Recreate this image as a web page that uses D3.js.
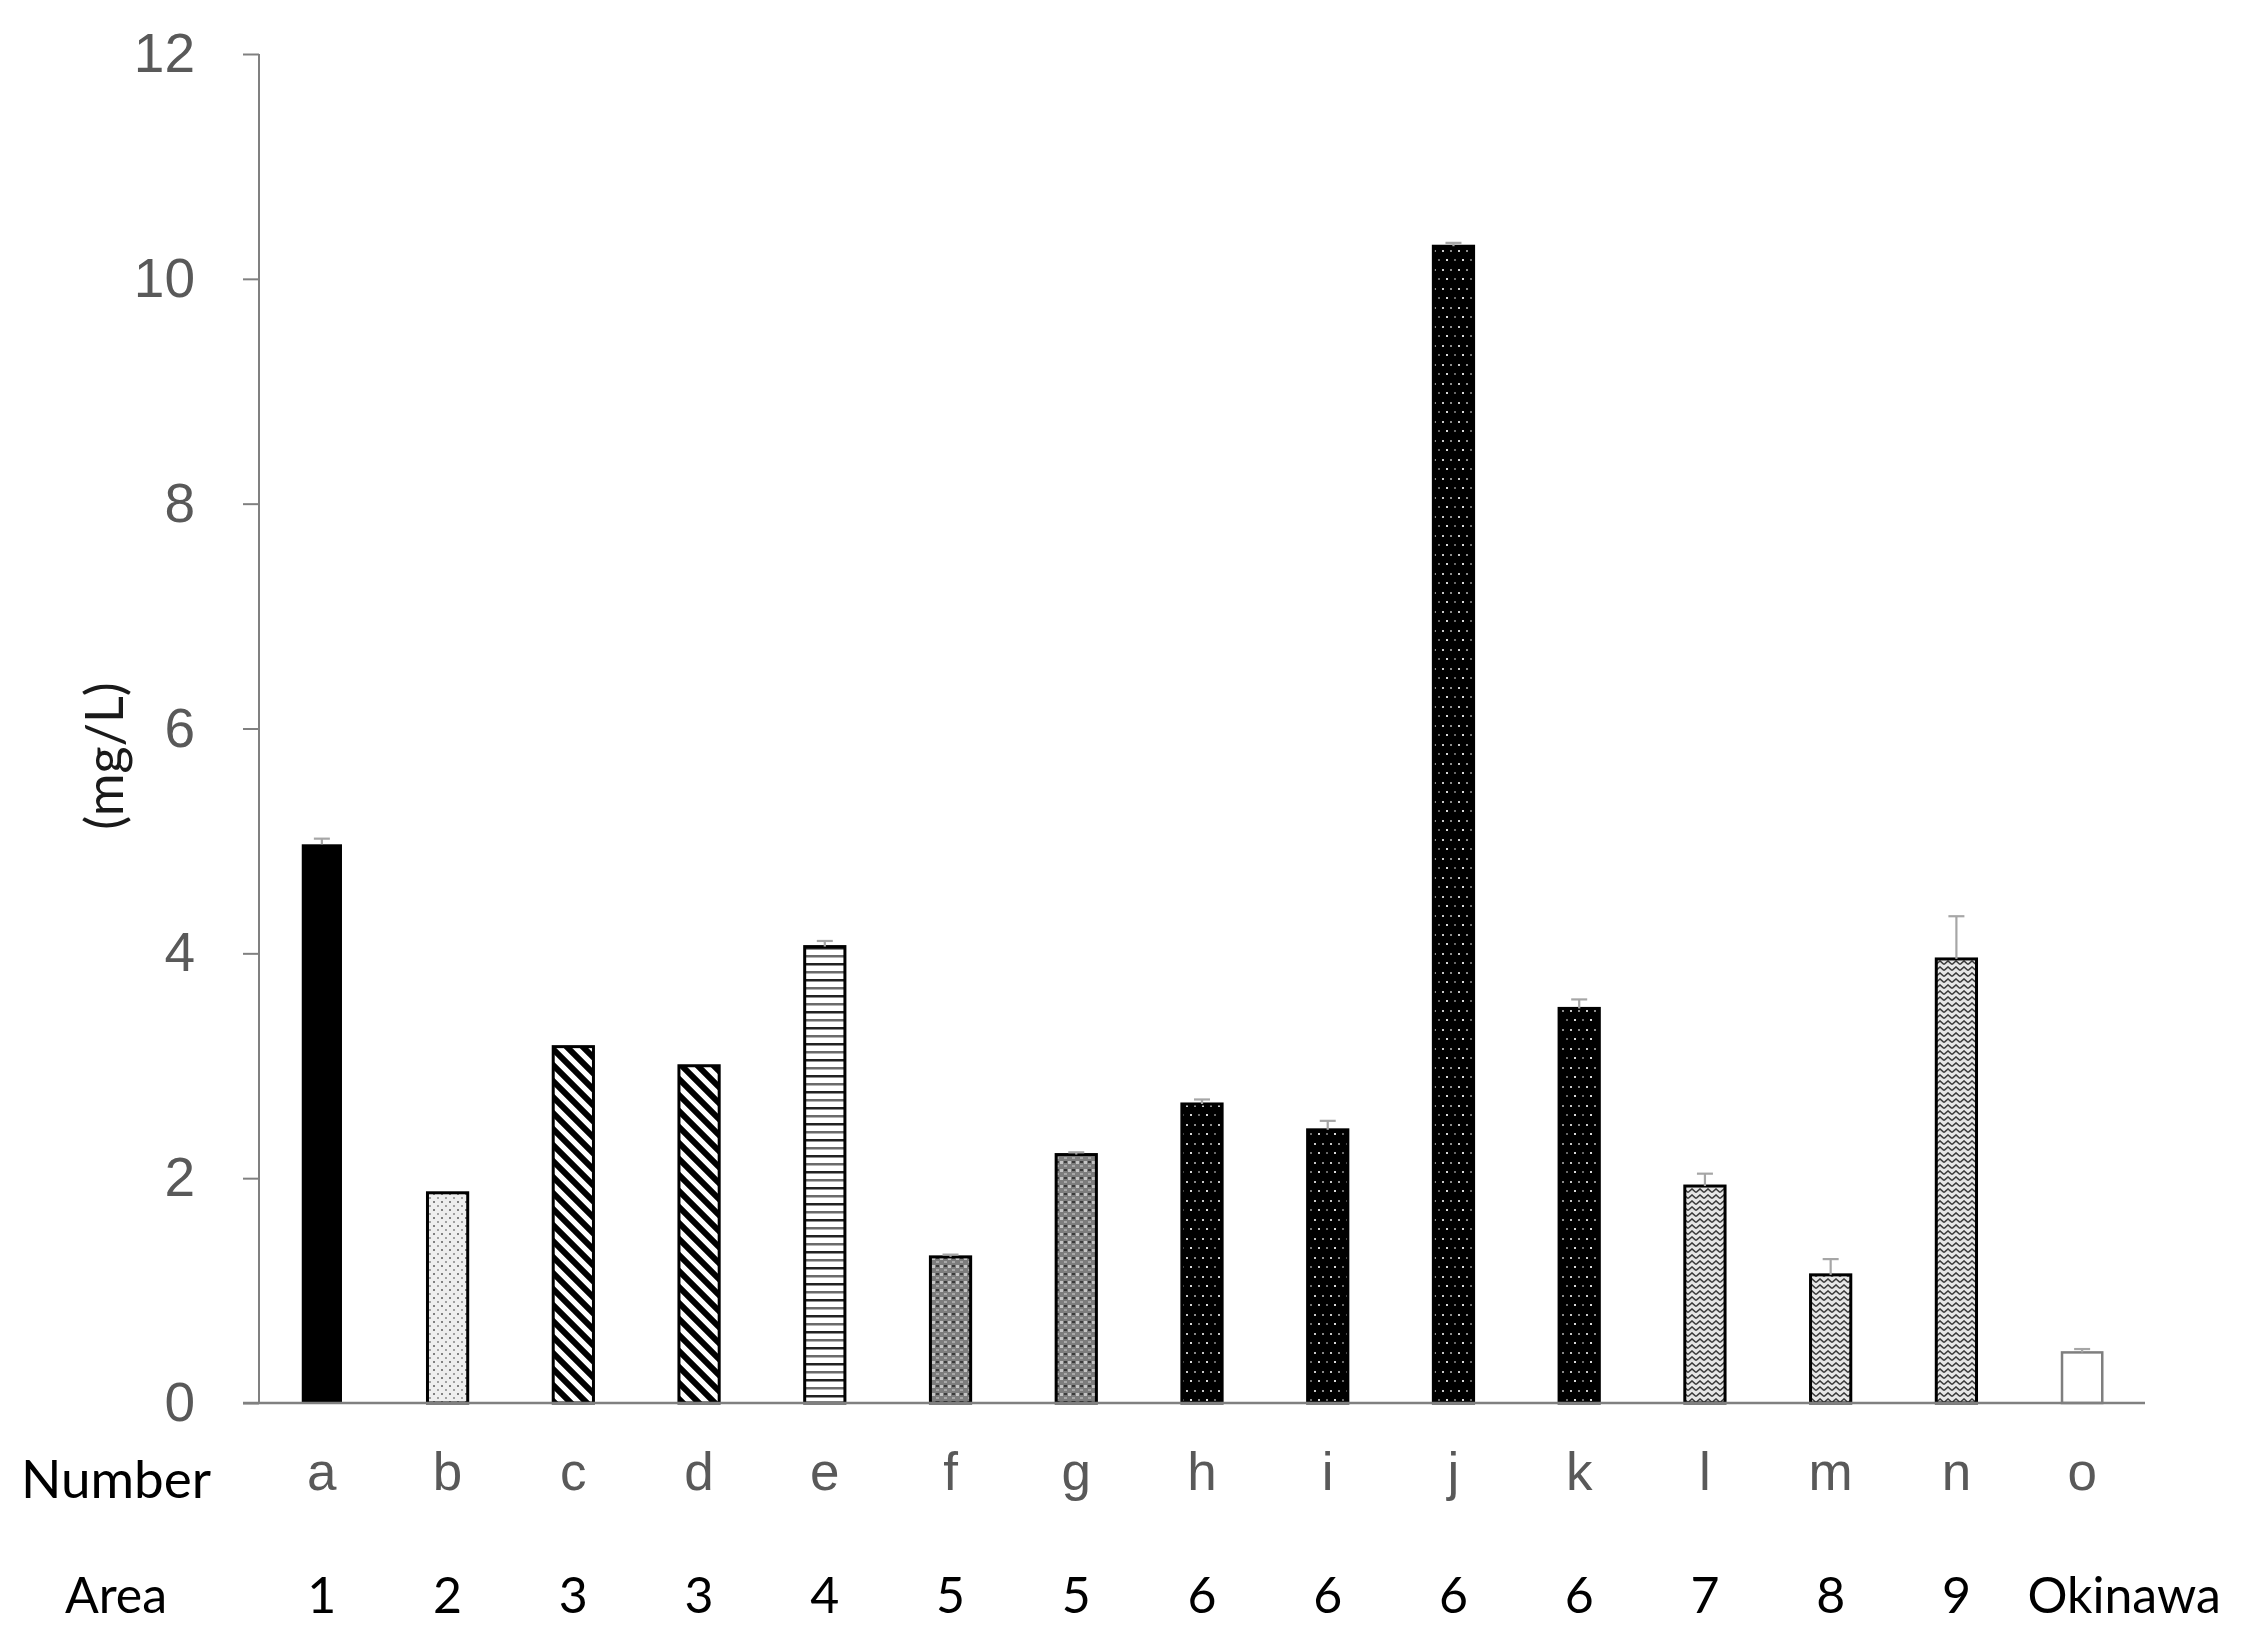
<!DOCTYPE html>
<html>
<head>
<meta charset="utf-8">
<script src="https://cdn.jsdelivr.net/npm/d3@7"></script>
<style>
  html, body { margin: 0; padding: 0; background: #fff; }
  svg { display: block; }
</style>
</head>
<body>
<script>
// ---- data ----
const numbers = ["a","b","c","d","e","f","g","h","i","j","k","l","m","n","o"];
const areas   = ["1","2","3","3","4","5","5","6","6","6","6","7","8","9","Okinawa"];
const values  = [4.97, 1.87, 3.17, 3.00, 4.06, 1.30, 2.21, 2.66, 2.43, 10.29, 3.51, 1.93, 1.14, 3.95, 0.45];
const errors  = [0.05, 0.00, 0.00, 0.01, 0.05, 0.02, 0.02, 0.04, 0.08, 0.03, 0.08, 0.11, 0.14, 0.38, 0.03];
const patternKeys = ["solid","dots","diag","diag","hlines","grid","grid","bdots","bdots","bdots","bdots","wave","wave","wave","white"];
const yTicks = [0, 2, 4, 6, 8, 10, 12];

// ---- layout ----
const W = 2248, H = 1640;
const axisX = 259, plotRight = 2145, y0px = 1403, y12px = 54;

const svg = d3.select("body").append("svg").attr("width", W).attr("height", H);
svg.append("rect").attr("width", W).attr("height", H).attr("fill", "#fff");

const defs = svg.append("defs");
function pat(id, w, h, bg) {
  const p = defs.append("pattern").attr("id", id).attr("patternUnits", "userSpaceOnUse")
    .attr("width", w).attr("height", h);
  p.append("rect").attr("width", w).attr("height", h).attr("fill", bg);
  return p;
}
// light dotted
{
  const p = pat("p-dots", 8, 8, "#eeeeee");
  p.append("rect").attr("x", 1).attr("y", 1).attr("width", 2).attr("height", 2).attr("fill", "#808080");
  p.append("rect").attr("x", 5).attr("y", 5).attr("width", 2).attr("height", 2).attr("fill", "#a0a0a0");
}
// wide downward diagonal
{
  const p = pat("p-diag", 16, 16, "#fff");
  p.append("path").attr("d", "M-4,-4 L20,20 M-4,12 L4,20 M12,-4 L20,4")
    .attr("stroke", "#000").attr("stroke-width", 6);
}
// horizontal lines
{
  const p = pat("p-hlines", 8, 16, "#fff");
  p.append("rect").attr("x", 0).attr("y", 3).attr("width", 8).attr("height", 2.5).attr("fill", "#222");
  p.append("rect").attr("x", 0).attr("y", 11).attr("width", 8).attr("height", 2.5).attr("fill", "#6a6a6a");
}
// gray grid
{
  const p = pat("p-grid", 8, 8, "#7d7d7d");
  p.append("rect").attr("x", 4).attr("y", 1).attr("width", 3).attr("height", 3).attr("fill", "#c4c4c4");
  p.append("rect").attr("x", 0).attr("y", 1).attr("width", 3).attr("height", 2).attr("fill", "#3c3c3c");
  p.append("rect").attr("x", 0).attr("y", 5).attr("width", 3).attr("height", 2).attr("fill", "#a8a8a8");
}
// black with white dots
{
  const p = pat("p-bdots", 16, 19, "#000");
  p.append("rect").attr("x", 2).attr("y", 3).attr("width", 2).attr("height", 2).attr("fill", "#c8c8c8");
  p.append("rect").attr("x", 10).attr("y", 3).attr("width", 2).attr("height", 2).attr("fill", "#8a8a8a");
  p.append("rect").attr("x", 6).attr("y", 12).attr("width", 2).attr("height", 2).attr("fill", "#d8d8d8");
  p.append("rect").attr("x", 14).attr("y", 12).attr("width", 2).attr("height", 2).attr("fill", "#6a6a6a");
}
// wave
{
  const p = pat("p-wave", 8, 6, "#e6e6e6");
  p.append("path").attr("d", "M0,4.5 L4,1 L8,4.5").attr("fill", "none")
    .attr("stroke", "#3a3a3a").attr("stroke-width", 1.6);
}

const fills = {
  solid: "#000", dots: "url(#p-dots)", diag: "url(#p-diag)", hlines: "url(#p-hlines)",
  grid: "url(#p-grid)", bdots: "url(#p-bdots)", wave: "url(#p-wave)", white: "#fff"
};

const x = d3.scaleBand().domain(numbers).range([axisX, plotRight])
  .paddingInner(0.68).paddingOuter(0.34);
const y = d3.scaleLinear().domain([0, 12]).range([y0px, y12px]);

const data = numbers.map((n, i) => ({ n, area: areas[i], v: values[i], e: errors[i], p: patternKeys[i], i }));

// ---- bars ----
svg.append("g").selectAll("rect").data(data).join("rect")
  .attr("x", d => x(d.n))
  .attr("y", d => y(d.v))
  .attr("width", x.bandwidth())
  .attr("height", d => y(0) - y(d.v))
  .attr("fill", d => fills[d.p])
  .attr("stroke", d => d.p === "white" ? "#7f7f7f" : "#000")
  .attr("stroke-width", d => d.p === "solid" ? 0 : (d.p === "white" ? 2.5 : 3));

// ---- error bars (upper) ----
const eb = svg.append("g").attr("stroke", "#a6a6a6").attr("stroke-width", 2.2).attr("fill", "none");
data.filter(d => d.e > 0.015).forEach(d => {
  const cx = x(d.n) + x.bandwidth() / 2;
  eb.append("line").attr("x1", cx).attr("x2", cx).attr("y1", y(d.v)).attr("y2", y(d.v + d.e));
  eb.append("line").attr("x1", cx - 8).attr("x2", cx + 8).attr("y1", y(d.v + d.e)).attr("y2", y(d.v + d.e));
});

// ---- y axis ----
const yAxis = d3.axisLeft(y).tickValues(yTicks).tickSize(16).tickPadding(48).tickFormat(d3.format("d"));
const gy = svg.append("g").attr("transform", `translate(${axisX},0)`).call(yAxis);
gy.select(".domain").attr("stroke", "#808080").attr("stroke-width", 2)
  .attr("d", `M0,${y(12)}V${y(0)}`);
gy.selectAll(".tick line").attr("stroke", "#808080").attr("stroke-width", 2);
gy.selectAll(".tick text").attr("fill", "#595959")
  .style("font-family", "'Liberation Sans', Arial, sans-serif").style("font-size", "55px");

// ---- x axis line ----
svg.append("line").attr("x1", axisX - 16).attr("x2", plotRight)
  .attr("y1", y(0)).attr("y2", y(0)).attr("stroke", "#808080").attr("stroke-width", 2.5);

// ---- category labels ----
svg.append("g").selectAll("text").data(data).join("text")
  .attr("x", d => x(d.n) + x.bandwidth() / 2)
  .attr("y", 1490)
  .attr("text-anchor", "middle")
  .attr("fill", "#595959")
  .style("font-family", "'Liberation Sans', Arial, sans-serif").style("font-size", "53px")
  .text(d => d.n);

svg.append("g").selectAll("text").data(data).join("text")
  .attr("x", d => x(d.n) + x.bandwidth() / 2 + (d.i === numbers.length - 1 ? 42 : 0))
  .attr("y", 1613)
  .attr("text-anchor", "middle")
  .attr("fill", "#000")
  .style("font-family", "Lato, 'Open Sans', sans-serif").style("font-size", "50px")
  .text(d => d.area);

// row titles
svg.append("text").attr("x", 116).attr("y", 1498).attr("text-anchor", "middle")
  .attr("fill", "#000").style("font-family", "Lato, sans-serif").style("font-size", "53px").text("Number");
svg.append("text").attr("x", 116).attr("y", 1613).attr("text-anchor", "middle")
  .attr("fill", "#000").style("font-family", "Lato, sans-serif").style("font-size", "50px").text("Area");

// y title
svg.append("text").attr("transform", "translate(123,756) rotate(-90)")
  .attr("text-anchor", "middle").attr("fill", "#1a1a1a")
  .style("font-family", "Lato, sans-serif").style("font-size", "52px").text("(mg/L)");
</script>
</body>
</html>
